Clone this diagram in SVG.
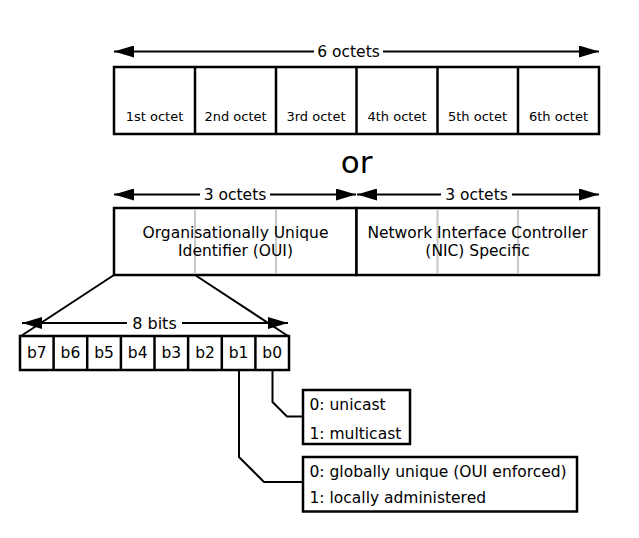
<svg xmlns="http://www.w3.org/2000/svg" width="639" height="538" viewBox="0 0 639 538">
<defs>
<marker id="ah" viewBox="0 0 20 12" refX="20" refY="6" markerWidth="20" markerHeight="12" markerUnits="userSpaceOnUse" orient="auto-start-reverse">
<path d="M0,0 L20,6 L0,12 z" fill="#000"/>
</marker>
<style>
text{font-family:"DejaVu Sans",Verdana,sans-serif;fill:#000}
.box{fill:#fff;stroke:#000;stroke-width:2.5}
.cell{font-size:13px;text-anchor:middle}
.mid{font-size:15.5px;text-anchor:middle}
.lbl{font-size:15.5px;text-anchor:middle}
.bit{font-size:15.5px;text-anchor:middle}
.desc{font-size:15.5px}
.arr{stroke:#000;stroke-width:2;fill:none}
.grey{stroke:#c8c8c8;stroke-width:2}
.div{stroke:#000;stroke-width:2.5}
.con{stroke:#000;stroke-width:2;fill:none}
</style>
</defs>
<rect width="639" height="538" fill="#fff"/>

<g id="connectors">
<line class="arr" x1="114" y1="51.5" x2="314" y2="51.5" marker-start="url(#ah)"/>
<line class="arr" x1="383" y1="51.5" x2="599" y2="51.5" marker-end="url(#ah)"/>
<line class="arr" x1="114" y1="194.5" x2="200" y2="194.5" marker-start="url(#ah)"/>
<line class="arr" x1="270" y1="194.5" x2="356" y2="194.5" marker-end="url(#ah)"/>
<line class="arr" x1="357" y1="194.5" x2="441" y2="194.5" marker-start="url(#ah)"/>
<line class="arr" x1="512" y1="194.5" x2="599" y2="194.5" marker-end="url(#ah)"/>
<line class="arr" x1="22" y1="323" x2="127" y2="323" marker-start="url(#ah)"/>
<line class="arr" x1="182" y1="323" x2="288" y2="323" marker-end="url(#ah)"/>
<path class="con" d="M114,275 L21,336"/>
<path class="con" d="M195,275 L288,336"/>
<path class="con" d="M272.5,370 L272.5,402 L287,416.5 L303,416.5"/>
<path class="con" d="M239,370 L239,457 L264,482 L303,482"/>
</g>

<g id="labels">
<text class="lbl" x="348.5" y="57">6 octets</text>
<text class="lbl" x="235" y="200">3 octets</text>
<text class="lbl" x="476.5" y="200">3 octets</text>
<text class="bit" x="154.5" y="328.5" style="font-size:16px">8 bits</text>
<text x="356.7" y="173" style="font-size:31px;text-anchor:middle">or</text>
</g>

<g id="octets">
<rect class="box" x="114" y="67" width="485" height="67"/>
<line class="div" x1="195" y1="67" x2="195" y2="134"/>
<line class="div" x1="276" y1="67" x2="276" y2="134"/>
<line class="div" x1="356.5" y1="67" x2="356.5" y2="134"/>
<line class="div" x1="437.5" y1="67" x2="437.5" y2="134"/>
<line class="div" x1="518" y1="67" x2="518" y2="134"/>
<text class="cell" x="154.5" y="120.5">1st octet</text>
<text class="cell" x="235.5" y="120.5">2nd octet</text>
<text class="cell" x="316" y="120.5">3rd octet</text>
<text class="cell" x="397" y="120.5">4th octet</text>
<text class="cell" x="477.5" y="120.5">5th octet</text>
<text class="cell" x="558.5" y="120.5">6th octet</text>
</g>

<g id="oui">
<rect class="box" x="114" y="208" width="242.5" height="67"/>
<line class="grey" x1="195" y1="209.5" x2="195" y2="273.5"/>
<line class="grey" x1="276" y1="209.5" x2="276" y2="273.5"/>
<text class="mid" x="235.5" y="237.5">Organisationally Unique</text>
<text class="mid" x="235.5" y="256">Identifier (OUI)</text>
</g>

<g id="nic">
<rect class="box" x="356.5" y="208" width="242.5" height="67"/>
<line class="grey" x1="437.5" y1="209.5" x2="437.5" y2="273.5"/>
<line class="grey" x1="518" y1="209.5" x2="518" y2="273.5"/>
<text class="mid" x="477.5" y="237.5">Network Interface Controller</text>
<text class="mid" x="477.5" y="256">(NIC) Specific</text>
</g>

<g id="bits">
<rect class="box" x="20" y="336" width="269" height="34"/>
<line class="div" x1="53.6" y1="336" x2="53.6" y2="370"/>
<line class="div" x1="87.2" y1="336" x2="87.2" y2="370"/>
<line class="div" x1="120.9" y1="336" x2="120.9" y2="370"/>
<line class="div" x1="154.5" y1="336" x2="154.5" y2="370"/>
<line class="div" x1="188.1" y1="336" x2="188.1" y2="370"/>
<line class="div" x1="221.8" y1="336" x2="221.8" y2="370"/>
<line class="div" x1="255.4" y1="336" x2="255.4" y2="370"/>
<text class="bit" x="36.8" y="357.5">b7</text>
<text class="bit" x="70.4" y="357.5">b6</text>
<text class="bit" x="104" y="357.5">b5</text>
<text class="bit" x="137.7" y="357.5">b4</text>
<text class="bit" x="171.3" y="357.5">b3</text>
<text class="bit" x="205" y="357.5">b2</text>
<text class="bit" x="238.6" y="357.5">b1</text>
<text class="bit" x="272.2" y="357.5">b0</text>
</g>

<g id="cast">
<rect class="box" x="303" y="390" width="107" height="54"/>
<text class="desc" x="309.5" y="410">0: unicast</text>
<text class="desc" x="309.5" y="438.5">1: multicast</text>
</g>

<g id="admin">
<rect class="box" x="303" y="457" width="274" height="54.5"/>
<text class="desc" x="309.5" y="477">0: globally unique (OUI enforced)</text>
<text class="desc" x="309.5" y="502.5">1: locally administered</text>
</g>
</svg>
